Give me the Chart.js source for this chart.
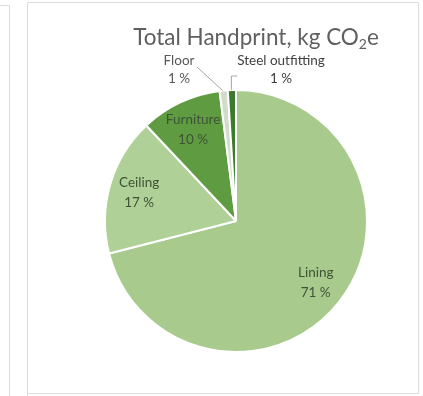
<!DOCTYPE html>
<html>
<head>
<meta charset="utf-8">
<script src="https://cdn.jsdelivr.net/npm/chart.js@4/dist/chart.umd.min.js"></script>
<style>
html,body{margin:0;padding:0;background:#fff;}
#wrap{width:423px;height:396px;position:relative;}
</style>
</head>
<body>
<div id="wrap"><canvas id="c" width="423" height="396"></canvas></div>
<script>
const categories = ['Lining', 'Ceiling', 'Furniture', 'Floor', 'Steel outfitting'];
const values = [71, 17, 10, 1, 1];
const colors = ['#a8cb8d', '#afd096', '#5f9b41', '#d3dbcd', '#3c7a2e'];
const titleText = 'Total Handprint, kg CO';
const titleSub = '2';
const titleTail = 'e';

const FONT = 'Lato, "Open Sans", sans-serif';

const framePlugin = {
  id: 'frame',
  beforeDraw(chart) {
    const ctx = chart.ctx;
    ctx.save();
    ctx.fillStyle = '#fff';
    ctx.fillRect(0, 0, chart.width, chart.height);
    ctx.strokeStyle = '#dcdcdc';
    ctx.lineWidth = 1;
    ctx.beginPath();
    ctx.moveTo(0, 5.5); ctx.lineTo(9.5, 5.5); ctx.lineTo(9.5, 396);
    ctx.moveTo(27.5, 396); ctx.lineTo(27.5, 2.5); ctx.lineTo(418.5, 2.5); ctx.lineTo(418.5, 393.5); ctx.lineTo(27.5, 393.5);
    ctx.stroke();
    ctx.restore();
  }
};

const titlePlugin = {
  id: 'ctitle',
  afterDraw(chart) {
    const ctx = chart.ctx;
    ctx.save();
    ctx.fillStyle = '#5f5f5f';
    ctx.textBaseline = 'alphabetic';
    const big = '22.5px ' + FONT, small = '14px ' + FONT;
    ctx.font = big;
    const w1 = ctx.measureText(titleText).width;
    const w3 = ctx.measureText(titleTail).width;
    ctx.font = small;
    const w2 = ctx.measureText(titleSub).width;
    const total = w1 + w2 + w3;
    let x = 256 - total / 2;
    const y = 45;
    ctx.textAlign = 'left';
    ctx.font = big; ctx.fillText(titleText, x, y); x += w1;
    ctx.font = small; ctx.fillText(titleSub, x, y + 4); x += w2;
    ctx.font = big; ctx.fillText(titleTail, x, y);
    ctx.restore();
  }
};

const labelPlugin = {
  id: 'slabels',
  afterDatasetsDraw(chart) {
    const ctx = chart.ctx;
    const meta = chart.getDatasetMeta(0);
    const data = chart.data.datasets[0].data;
    const total = data.reduce((a, b) => a + b, 0);
    ctx.save();
    ctx.font = '13.5px ' + FONT;
    ctx.textAlign = 'center';
    ctx.textBaseline = 'middle';
    meta.data.forEach((arc, i) => {
      const p = arc.getProps(['x', 'y', 'startAngle', 'endAngle', 'outerRadius'], true);
      const mid = (p.startAngle + p.endAngle) / 2;
      const pct = Math.round(data[i] / total * 100) + ' %';
      const name = chart.data.labels[i];
      if (data[i] / total > 0.05) {
        const r = p.outerRadius * 0.77;
        const lx = p.x + Math.cos(mid) * r;
        const ly = p.y + Math.sin(mid) * r;
        ctx.fillStyle = '#3e5236';
        ctx.fillText(name, lx, ly - 10);
        ctx.fillText(pct, lx, ly + 10);
      } else {
        const ex = p.x + Math.cos(mid) * p.outerRadius;
        const ey = p.y + Math.sin(mid) * p.outerRadius;
        ctx.strokeStyle = '#a6a6a6';
        ctx.lineWidth = 1;
        ctx.beginPath();
        let lx, ly;
        if (name === 'Floor') {
          lx = p.x - 57; ly = p.y - 151;
          ctx.moveTo(ex - 1, ey);
          ctx.lineTo(lx + 18, ly - 3);
          ctx.fillStyle = '#595959';
        } else {
          lx = p.x + 45; ly = p.y - 151;
          ctx.moveTo(ex - 0.5, ey);
          ctx.lineTo(ex - 0.5, p.y - 145);
          ctx.lineTo(ex + 5.5, p.y - 145);
          ctx.fillStyle = '#404040';
        }
        ctx.stroke();
        ctx.fillText(name, lx, ly - 9);
        ctx.fillText(pct, lx, ly + 9);
      }
    });
    ctx.restore();
  }
};

new Chart(document.getElementById('c'), {
  type: 'pie',
  data: {
    labels: categories,
    datasets: [{
      data: values,
      backgroundColor: colors,
      borderColor: '#ffffff',
      borderWidth: 2
    }]
  },
  options: {
    responsive: false,
    animation: false,
    layout: { padding: { left: 104, right: 55, top: 89, bottom: 43 } },
    plugins: {
      legend: { display: false },
      title: { display: false },
      tooltip: { enabled: false }
    }
  },
  plugins: [framePlugin, titlePlugin, labelPlugin]
});
</script>
</body>
</html>
